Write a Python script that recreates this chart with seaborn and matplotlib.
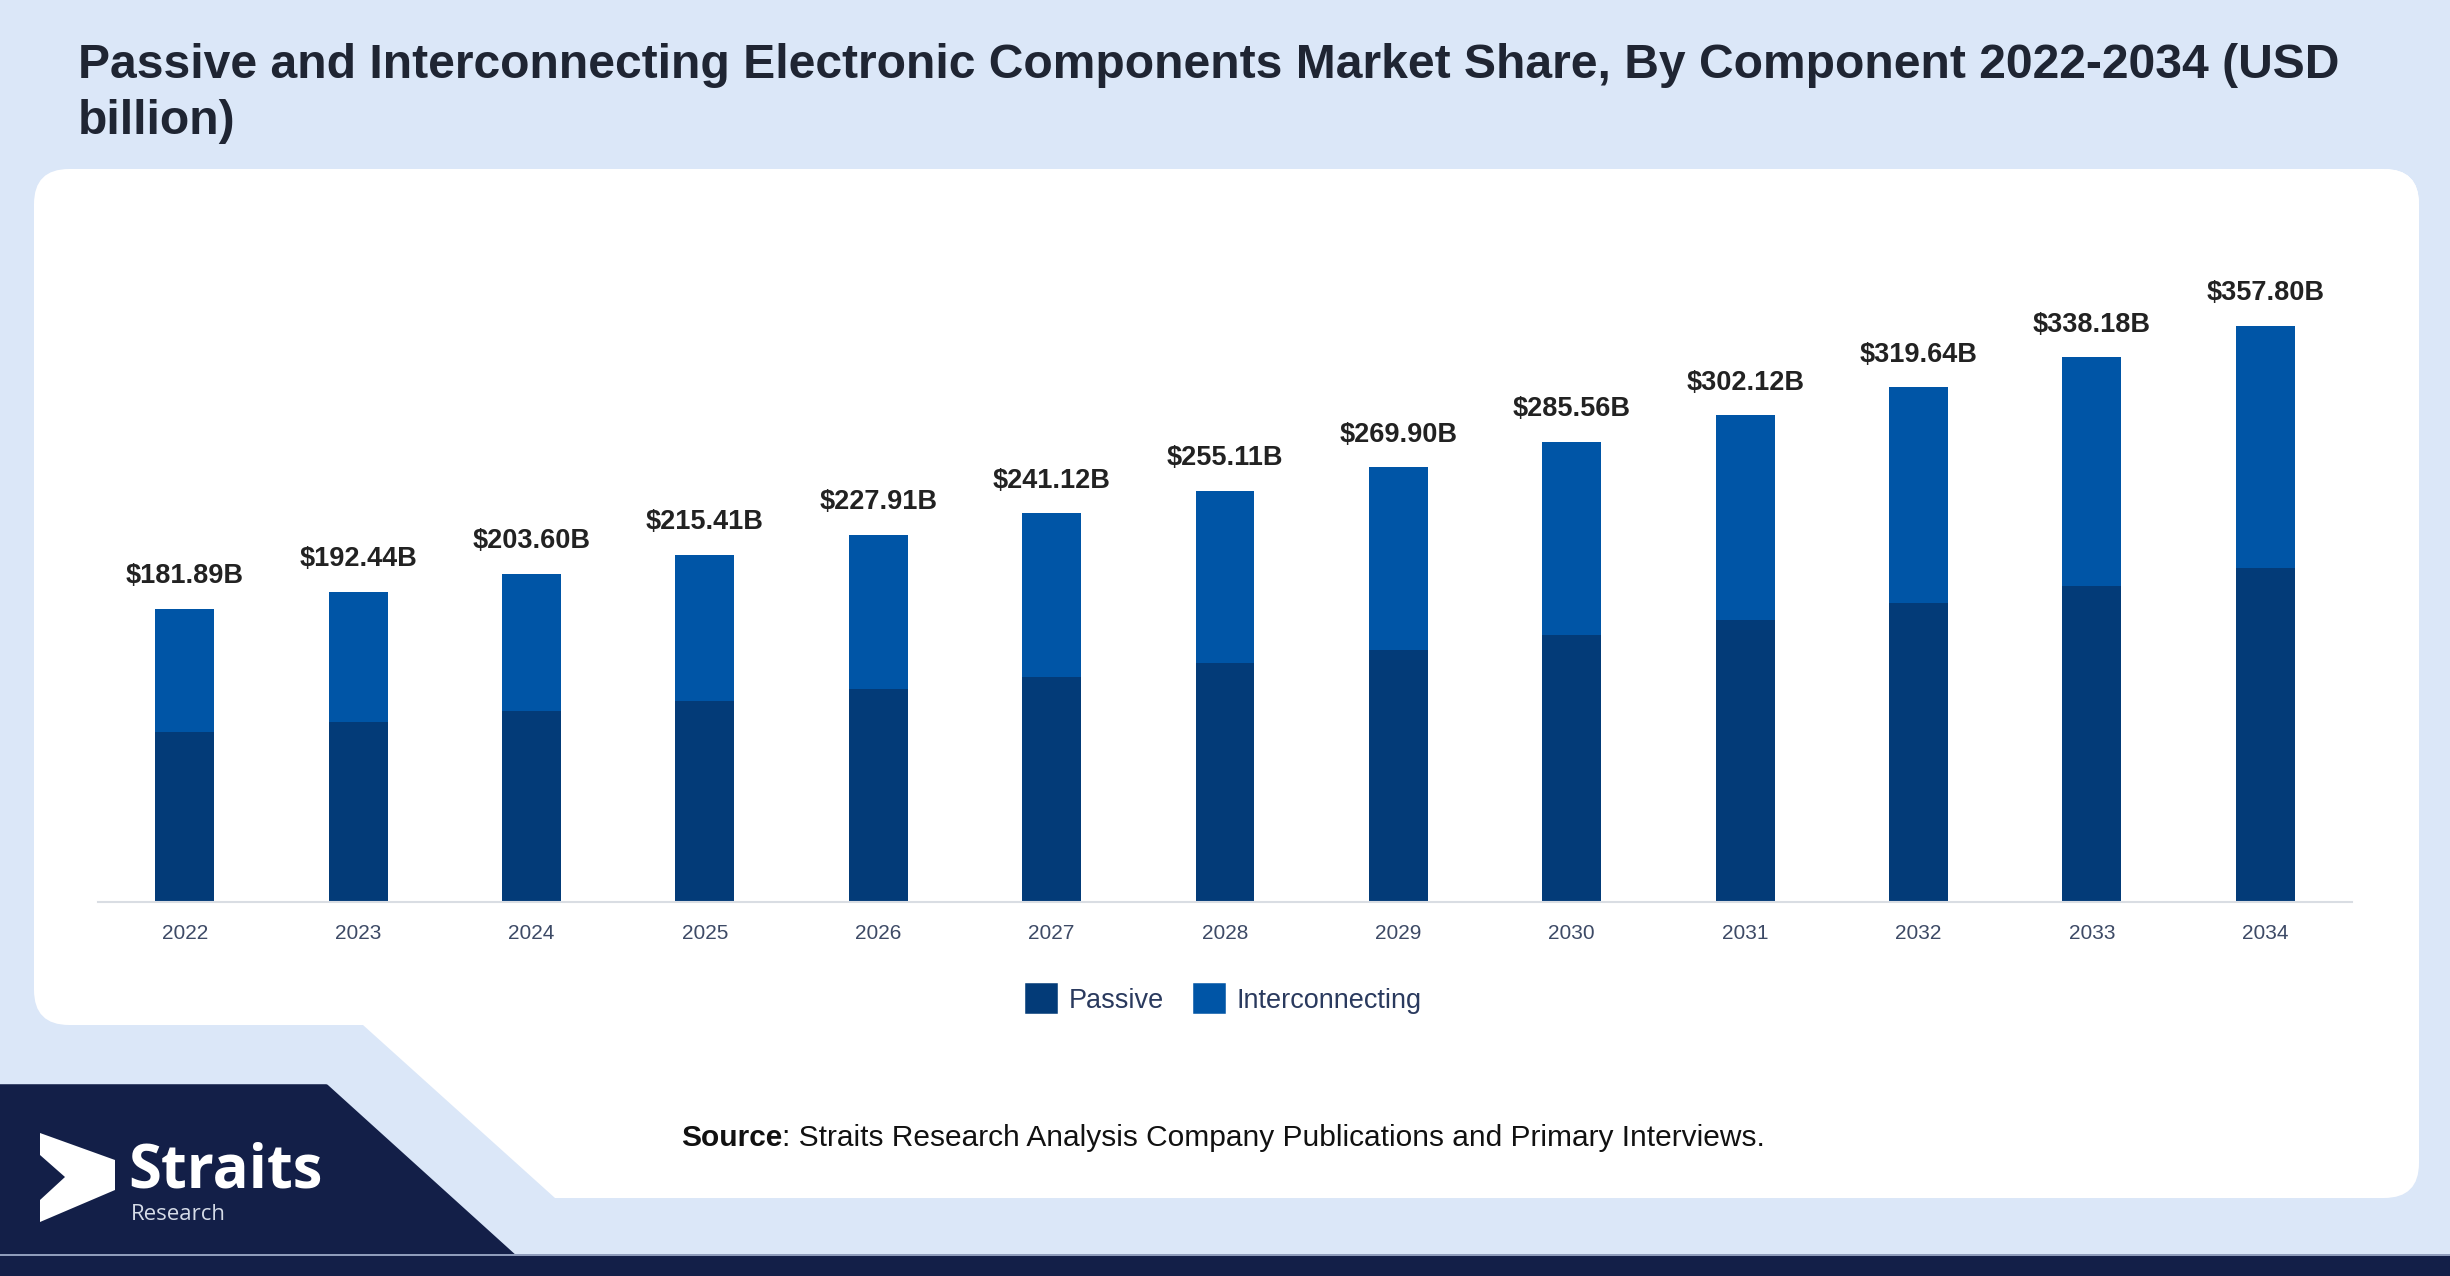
import pandas as pd
import seaborn as sns
import matplotlib.pyplot as plt
from matplotlib.patches import FancyBboxPatch, Polygon, Rectangle, Patch

# values (USD billion)
years = ['2022', '2023', '2024', '2025', '2026', '2027', '2028',
         '2029', '2030', '2031', '2032', '2033', '2034']
totals = [181.89, 192.44, 203.60, 215.41, 227.91, 241.12, 255.11,
          269.90, 285.56, 302.12, 319.64, 338.18, 357.80]
passive = [105.5, 111.6, 118.1, 124.9, 132.2, 139.8, 148.0,
           156.5, 165.6, 175.2, 185.4, 196.1, 207.5]
series_names = ['Passive', 'Interconnecting']

PASSIVE_C = '#033b78'
INTER_C = '#0055a6'
BG = '#dbe7f8'
NAVY = '#131f48'

W, H = 2450, 1276

sns.set_style('white')
plt.rcParams['font.family'] = ['Liberation Sans', 'DejaVu Sans']

fig = plt.figure(figsize=(W / 100, H / 100), dpi=100)
fig.patch.set_facecolor(BG)
tr = fig.dpi_scale_trans


def px(x, y):
    # pixel coords (from top-left) -> inches for dpi_scale_trans
    return (x / 100, (H - y) / 100)


def rbox(x0, y0, x1, y1, color, r=35):
    p = FancyBboxPatch(px(x0, y1), (x1 - x0) / 100, (y1 - y0) / 100,
                       boxstyle=f'round,pad=0,rounding_size={r / 100}',
                       transform=tr, facecolor=color, edgecolor='none', zorder=-10)
    fig.patches.append(p)


# white card with the diagonal cut bottom-left
rbox(34, 169, 2419, 1025, 'white')
rbox(555, 169, 2419, 1198, 'white')
fig.patches.append(Polygon([px(330, 990), px(600, 990), px(600, 1198), px(555, 1198),
                            px(363, 1025), px(330, 1025)], closed=True,
                           transform=tr, facecolor='white', edgecolor='none', zorder=-10))

# navy footer shape
fig.patches.append(Polygon([px(0, 1087), px(326, 1087), px(515, 1258), px(0, 1258)],
                           closed=True, transform=tr, facecolor=NAVY, edgecolor=NAVY,
                           linewidth=4, joinstyle='round', zorder=-9))
fig.patches.append(Rectangle(px(0, 1276), W / 100, 22 / 100, transform=tr,
                             facecolor=NAVY, edgecolor='none', zorder=-9))
fig.patches.append(Rectangle(px(0, 1256), W / 100, 2 / 100, transform=tr,
                             facecolor='#8f9cbb', edgecolor='none', zorder=-9))

# logo
fig.patches.append(Polygon([px(40, 1133), px(115, 1160), px(115, 1190), px(40, 1222),
                            px(40, 1200), px(65, 1177), px(40, 1155)], closed=True,
                           transform=tr, facecolor='white', edgecolor='none', zorder=-8))
fig.text(128 / W, 1 - 1188 / H, 'Straits', fontsize=43, fontweight='bold',
         color='white', family=['Open Sans', 'DejaVu Sans'], va='baseline')
fig.text(131 / W, 1 - 1220 / H, 'Research', fontsize=16,
         color='#d5dbe7', family=['Open Sans', 'DejaVu Sans'], va='baseline')

# title
fig.text(78 / W, 1 - 78 / H,
         'Passive and Interconnecting Electronic Components Market Share, By Component 2022-2034 (USD',
         fontsize=34.6, fontweight='bold', color='#1f2533', va='baseline')
fig.text(78 / W, 1 - 134 / H, 'billion)', fontsize=34.6, fontweight='bold',
         color='#1f2533', va='baseline')

# chart
ax = fig.add_axes([98 / W, 1 - 901.6 / H, (2352 - 98) / W, 644 / H])
ax.set_facecolor('none')
df = pd.DataFrame({'Year': years, 'Total': totals, 'Passive': passive})
sns.barplot(data=df, x='Year', y='Total', color=INTER_C, width=0.34,
            saturation=1, linewidth=0, ax=ax)
sns.barplot(data=df, x='Year', y='Passive', color=PASSIVE_C, width=0.34,
            saturation=1, linewidth=0, ax=ax)
ax.bar_label(ax.containers[0], labels=[f'${v:.2f}B' for v in totals],
             padding=14, fontsize=19.5, fontweight='bold', color='#222222')
ax.set_xlim(-0.5, 12.5)
ax.set_ylim(0, 400)
ax.set_xlabel('')
ax.set_ylabel('')
ax.set_yticks([])
for s in ['left', 'top', 'right']:
    ax.spines[s].set_visible(False)
ax.spines['bottom'].set_color('#d9dde3')
ax.spines['bottom'].set_linewidth(1.5)
ax.tick_params(axis='x', length=0, pad=16, labelsize=15, labelcolor='#3d4a66')

handles = [Patch(facecolor=PASSIVE_C, edgecolor=PASSIVE_C, linewidth=4, joinstyle='round'),
           Patch(facecolor=INTER_C, edgecolor=INTER_C, linewidth=4, joinstyle='round')]
fig.legend(handles, series_names, loc='center', bbox_to_anchor=(0.5, 1 - 1000 / H),
           ncol=2, frameon=False, fontsize=19.5, handlelength=1.0, handleheight=1.0,
           handletextpad=0.5, columnspacing=1.2, labelcolor='#2a3a5e')

# source line
r = fig.canvas.get_renderer()
t1 = fig.text(681 / W, 1 - 1138 / H, 'Source', fontsize=21.5, fontweight='bold',
              color='#111111', va='center')
bb = t1.get_window_extent(renderer=r)
fig.text(bb.x1 / W, 1 - 1138 / H,
         ': Straits Research Analysis Company Publications and Primary Interviews.',
         fontsize=21.5, color='#111111', va='center')

fig.savefig('out.png', dpi=100)
